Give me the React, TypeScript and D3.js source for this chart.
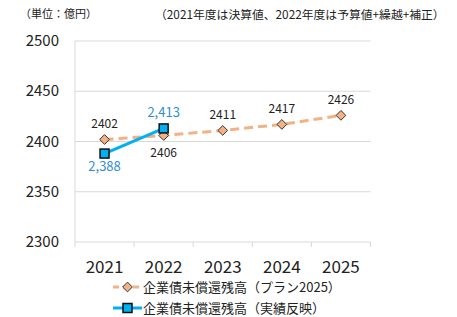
import React, { useRef, useEffect } from "react";
import * as d3 from "d3";

const width = 457;
const height = 317;

const years = ["2021", "2022", "2023", "2024", "2025"];
const planValues = [2402, 2406, 2411, 2417, 2426];
const actualYears = ["2021", "2022"];
const actualValues = [2388, 2413];
const yTicks = [2300, 2350, 2400, 2450, 2500];

const planName = "企業債未償還残高（プラン2025）";
const actualName = "企業債未償還残高（実績反映）";

const orange = "#f4b183";
const blue = "#00b0f0";
const font = "'Noto Sans CJK JP', 'Noto Sans', sans-serif";

export default function App() {
  const ref = useRef<SVGSVGElement | null>(null);

  useEffect(() => {
    const svg = d3.select(ref.current);
    svg.selectAll("*").remove();

    const x = d3.scaleBand().domain(years).range([75, 370.5]);
    const cx = (d: string) => x(d)! + x.bandwidth() / 2;
    const y = d3.scaleLinear().domain([2300, 2500]).range([242, 41]);

    // header notes
    svg.append("text").attr("x", 20).attr("y", 18).attr("font-size", 11)
      .attr("font-family", font).attr("fill", "#222").text("（単位：億円）");
    svg.append("text").attr("x", 155).attr("y", 19).attr("font-size", 11.8)
      .attr("font-family", font).attr("fill", "#222")
      .text("（2021年度は決算値、2022年度は予算値+繰越+補正）");

    // gridlines
    svg.selectAll("line.grid").data(yTicks).enter().append("line")
      .attr("class", "grid")
      .attr("x1", 75).attr("x2", 370.5)
      .attr("y1", (d) => y(d)).attr("y2", (d) => y(d))
      .attr("stroke", "#d9d9d9").attr("stroke-width", 1);

    // y axis line
    svg.append("line").attr("x1", 75).attr("x2", 75).attr("y1", y(2500)).attr("y2", y(2300))
      .attr("stroke", "#d9d9d9");

    // x ticks
    const tickXs = years.map((d) => x(d)!).concat([x(years[years.length - 1])! + x.bandwidth()]);
    svg.selectAll("line.xt").data(tickXs).enter().append("line")
      .attr("x1", (d) => d).attr("x2", (d) => d)
      .attr("y1", y(2300)).attr("y2", y(2300) + 5)
      .attr("stroke", "#d9d9d9");

    // y tick labels
    svg.selectAll("text.yl").data(yTicks).enter().append("text")
      .attr("x", 59).attr("y", (d) => y(d) + 5)
      .attr("text-anchor", "end").attr("font-size", 15)
      .attr("font-family", font).attr("fill", "#222")
      .text((d) => d);

    // x labels
    svg.selectAll("text.xl").data(years).enter().append("text")
      .attr("x", (d) => cx(d)).attr("y", 273)
      .attr("text-anchor", "middle").attr("font-size", 17)
      .attr("font-family", font).attr("fill", "#222")
      .text((d) => d);

    const line = d3.line<[string, number]>().x((d) => cx(d[0])).y((d) => y(d[1]));

    // plan line
    const planData = years.map((d, i) => [d, planValues[i]] as [string, number]);
    svg.append("path").attr("d", line(planData)!)
      .attr("fill", "none").attr("stroke", orange).attr("stroke-width", 3)
      .attr("stroke-dasharray", "9,5");

    const diamond = d3.symbol().type(d3.symbolDiamond2).size(60);
    svg.selectAll("path.dia").data(planData).enter().append("path")
      .attr("d", diamond()!)
      .attr("transform", (d) => `translate(${cx(d[0])},${y(d[1])})`)
      .attr("fill", orange).attr("stroke", "#333").attr("stroke-width", 1);

    // actual line
    const actualData = actualYears.map((d, i) => [d, actualValues[i]] as [string, number]);
    svg.append("path").attr("d", line(actualData)!)
      .attr("fill", "none").attr("stroke", blue).attr("stroke-width", 3);
    svg.selectAll("rect.sq").data(actualData).enter().append("rect")
      .attr("x", (d) => cx(d[0]) - 4.5).attr("y", (d) => y(d[1]) - 4.5)
      .attr("width", 9).attr("height", 9)
      .attr("fill", blue).attr("stroke", "#111").attr("stroke-width", 1.5);

    // plan labels
    svg.selectAll("text.pl").data(planData).enter().append("text")
      .attr("x", (d) => cx(d[0]))
      .attr("y", (d, i) => (i === 1 ? y(d[1]) + 22 : y(d[1]) - 11))
      .attr("text-anchor", "middle").attr("font-size", 12)
      .attr("font-family", font).attr("fill", "#222")
      .text((d) => d[1]);

    // actual labels
    svg.selectAll("text.al").data(actualData).enter().append("text")
      .attr("x", (d) => cx(d[0]))
      .attr("y", (d, i) => (i === 0 ? y(d[1]) + 17 : y(d[1]) - 11))
      .attr("text-anchor", "middle").attr("font-size", 13)
      .attr("font-family", font).attr("fill", "#2e8fd6")
      .text((d) => d3.format(",")(d[1]));

    // legend
    const lg = svg.append("g");
    lg.append("line").attr("x1", 113).attr("x2", 142).attr("y1", 287).attr("y2", 287)
      .attr("stroke", orange).attr("stroke-width", 3).attr("stroke-dasharray", "6,4");
    lg.append("path").attr("d", diamond()!).attr("transform", "translate(127.5,287)")
      .attr("fill", orange).attr("stroke", "#333");
    lg.append("text").attr("x", 143).attr("y", 292).attr("font-size", 13)
      .attr("font-family", font).attr("fill", "#222").text(planName);

    lg.append("line").attr("x1", 113).attr("x2", 142).attr("y1", 308).attr("y2", 308)
      .attr("stroke", blue).attr("stroke-width", 3);
    lg.append("rect").attr("x", 123).attr("y", 303.5).attr("width", 9).attr("height", 9)
      .attr("fill", blue).attr("stroke", "#111").attr("stroke-width", 1.5);
    lg.append("text").attr("x", 143).attr("y", 313).attr("font-size", 13)
      .attr("font-family", font).attr("fill", "#222").text(actualName);
  }, []);

  return (
    <svg ref={ref} width={width} height={height}
      style={{ position: "absolute", left: 0, top: 0, background: "#fff" }} />
  );
}
